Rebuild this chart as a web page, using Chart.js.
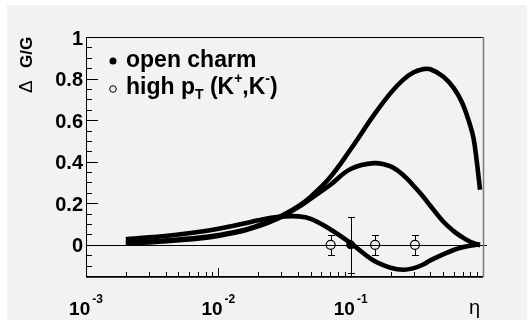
<!DOCTYPE html>
<html>
<head>
<meta charset="utf-8">
<script src="https://cdn.jsdelivr.net/npm/chart.js@4/dist/chart.umd.min.js"></script>
<style>
html,body{margin:0;padding:0;background:#fff;}
canvas{display:block;}
</style>
</head>
<body>
<canvas id="c" width="529" height="320"></canvas>
<script>
// ---- data ----
const etaGrid   = [0.002,0.003,0.005,0.0075,0.01,0.015,0.02,0.025,0.03,0.04,0.05,0.07,0.1,0.15,0.2,0.25,0.3,0.35,0.4,0.5,0.6,0.7,0.8,0.85,0.9,0.93,0.95];
const curveHigh = [0.010,0.016,0.026,0.036,0.047,0.069,0.093,0.116,0.140,0.185,0.232,0.325,0.460,0.625,0.730,0.795,0.830,0.845,0.845,0.810,0.755,0.680,0.575,0.510,0.395,0.315,0.265];
const curveMid  = [0.007,0.012,0.022,0.032,0.043,0.065,0.089,0.112,0.134,0.180,0.222,0.288,0.365,0.393,0.377,0.335,0.283,0.235,0.188,0.112,0.066,0.036,0.015,0.008,0.003,0.001,0.000];
const curveLow  = [0.027,0.036,0.050,0.064,0.077,0.100,0.118,0.130,0.136,0.137,0.125,0.075,0.008,-0.077,-0.110,-0.120,-0.112,-0.096,-0.075,-0.046,-0.025,-0.012,-0.004,-0.002,0.000,0.000,0.000];

const charmX   = [0.1];
const charmY   = [0];
const charmErr = [0.135];

const highPtX   = [0.0706,0.153,0.306];
const highPtY   = [0,0,0];
const highPtErr = [0.048,0.048,0.048];

const yTickValues = [0,0.2,0.4,0.6,0.8,1];
const yTickLabels = ['0','0.2','0.4','0.6','0.8','1'];
const xDecadeExps = [-3,-2,-1];

const pts = (xs, ys) => xs.map((x,i)=>({x:x, y:ys[i]}));

const curveStyle = {borderColor:'#000', borderWidth:4.6, pointRadius:0, tension:0.4, fill:false, order:1};

const decor = {
  id:'decor',
  beforeDraw(chart){
    const ctx = chart.ctx;
    ctx.save();
    ctx.fillStyle = '#ffffff';
    ctx.fillRect(0,0,chart.width,chart.height);
    ctx.fillStyle = '#f2f2f2';
    ctx.fillRect(7,5,520,315);
    ctx.restore();
  },
  beforeDatasetsDraw(chart){
    const ctx = chart.ctx, a = chart.chartArea, ys = chart.scales.y;
    const y0 = Math.round(ys.getPixelForValue(0)) + 0.5;
    ctx.save();
    ctx.strokeStyle = '#000'; ctx.lineWidth = 1;
    ctx.beginPath(); ctx.moveTo(a.left, y0); ctx.lineTo(a.right + 4, y0); ctx.stroke();
    ctx.restore();
  },
  afterDatasetsDraw(chart){
    const ctx = chart.ctx, a = chart.chartArea, xs = chart.scales.x, ys = chart.scales.y;
    ctx.save();
    ctx.strokeStyle = '#000'; ctx.lineWidth = 1;
    // error bars
    const drawErr = (xv, yv, ev, gap) => {
      const px = Math.round(xs.getPixelForValue(xv)) + 0.5;
      const py = ys.getPixelForValue(yv);
      const t = Math.round(ys.getPixelForValue(yv + ev)) + 0.5;
      const b = Math.round(ys.getPixelForValue(yv - ev)) + 0.5;
      ctx.beginPath();
      ctx.moveTo(px, t); ctx.lineTo(px, py - gap);
      ctx.moveTo(px, py + gap); ctx.lineTo(px, b);
      ctx.moveTo(px - 3.5, t); ctx.lineTo(px + 3.5, t);
      ctx.moveTo(px - 3.5, b); ctx.lineTo(px + 3.5, b);
      ctx.stroke();
    };
    charmX.forEach((x,i)=>drawErr(x, charmY[i], charmErr[i], 0));
    highPtX.forEach((x,i)=>drawErr(x, highPtY[i], highPtErr[i], 4.5));

    // frame
    ctx.strokeStyle = '#000'; ctx.lineWidth = 1;
    ctx.beginPath();
    ctx.moveTo(a.right, a.top + 0.5); ctx.lineTo(a.left + 0.5, a.top + 0.5);
    ctx.lineTo(a.left + 0.5, a.bottom + 0.5); ctx.lineTo(a.right, a.bottom + 0.5);
    ctx.stroke();
    ctx.lineWidth = 1.5;
    ctx.beginPath(); ctx.moveTo(a.left, a.bottom + 1); ctx.lineTo(a.right, a.bottom + 1); ctx.stroke();
    ctx.strokeStyle = '#7a7a7a'; ctx.lineWidth = 1.5;
    ctx.beginPath(); ctx.moveTo(a.right + 0.5, a.top); ctx.lineTo(a.right + 0.5, a.bottom + 1); ctx.stroke();

    // y ticks (inside)
    ctx.strokeStyle = '#000'; ctx.lineWidth = 1;
    ctx.beginPath();
    for (let k = -3; k <= 20; k++) {
      const v = k * 0.05;
      if (v < ys.min - 1e-9 || v > ys.max + 1e-9) continue;
      const py = Math.round(ys.getPixelForValue(v)) + 0.5;
      const len = (k % 4 === 0) ? 12 : 6;
      ctx.moveTo(a.left, py); ctx.lineTo(a.left + len, py);
    }
    // x ticks (inside)
    for (let e = -3; e < 0; e++) {
      for (let m = 1; m <= 9; m++) {
        const v = m * Math.pow(10, e);
        const px = Math.round(xs.getPixelForValue(v)) + 0.5;
        const len = (m === 1) ? 8 : 4;
        ctx.moveTo(px, a.bottom); ctx.lineTo(px, a.bottom - len);
      }
    }
    ctx.stroke();

    // y tick labels
    ctx.fillStyle = '#000';
    ctx.font = 'bold 20px "Liberation Sans", Arial, sans-serif';
    ctx.textAlign = 'right'; ctx.textBaseline = 'alphabetic';
    yTickValues.forEach((v,i)=>{
      ctx.fillText(yTickLabels[i], 83, ys.getPixelForValue(v) + 7.5);
    });

    // x tick labels 10^e
    ctx.textAlign = 'left';
    xDecadeExps.forEach(e=>{
      const px = xs.getPixelForValue(Math.pow(10, e));
      ctx.font = 'bold 19px "Liberation Sans", Arial, sans-serif';
      const wb = ctx.measureText('10').width;
      ctx.font = 'bold 12px "Liberation Sans", Arial, sans-serif';
      const sup = String(e);
      const ws = ctx.measureText(sup).width;
      const start = px - (wb + 2 + ws) / 2;
      ctx.font = 'bold 19px "Liberation Sans", Arial, sans-serif';
      ctx.fillText('10', start, 315);
      ctx.font = 'bold 12px "Liberation Sans", Arial, sans-serif';
      ctx.fillText(sup, start + wb + 2, 303);
    });

    // x axis title
    ctx.font = '20px "Liberation Sans", Arial, sans-serif';
    ctx.fillText('\u03B7', 469, 314);

    // y axis title (rotated)
    ctx.save();
    ctx.translate(32, 0);
    ctx.rotate(-Math.PI / 2);
    ctx.textAlign = 'left';
    ctx.font = '19px "Liberation Sans", Arial, sans-serif';
    ctx.fillText('\u0394', -93, 0);
    ctx.font = 'bold 17px "Liberation Sans", Arial, sans-serif';
    ctx.fillText('G/G', -68, 0);
    ctx.restore();

    // legend
    ctx.fillStyle = '#000';
    ctx.beginPath(); ctx.arc(113, 61, 3.5, 0, Math.PI * 2); ctx.fill();
    ctx.lineWidth = 1;
    ctx.beginPath(); ctx.arc(113, 89, 3.3, 0, Math.PI * 2); ctx.stroke();
    const big = 'bold 23px "Liberation Sans", Arial, sans-serif';
    const small = 'bold 14px "Liberation Sans", Arial, sans-serif';
    ctx.font = big;
    ctx.fillText('open charm', 126, 67);
    let x = 126; const base = 94;
    const seg = (txt, f, dy) => { ctx.font = f; ctx.fillText(txt, x, base + dy); x += ctx.measureText(txt).width; };
    seg('high p', big, 0);
    seg('T', small, 5);
    seg(' (K', big, 0);
    seg('+', small, -11);
    seg(',K', big, 0);
    seg('-', small, -11);
    seg(')', big, 0);
    ctx.restore();
  }
};

new Chart(document.getElementById('c'), {
  type: 'line',
  data: {
    datasets: [
      {label:'open charm', data: pts(charmX, charmY), showLine:false, pointRadius:4.5, pointBackgroundColor:'#000', pointBorderColor:'#000', pointBorderWidth:0, order:0},
      {label:'high pT (K+,K-)', data: pts(highPtX, highPtY), showLine:false, pointRadius:4.5, pointBackgroundColor:'rgba(0,0,0,0)', pointBorderColor:'#000', pointBorderWidth:1.2, order:0},
      Object.assign({label:'curve 1', data: pts(etaGrid, curveHigh)}, curveStyle),
      Object.assign({label:'curve 2', data: pts(etaGrid, curveMid)}, curveStyle),
      Object.assign({label:'curve 3', data: pts(etaGrid, curveLow)}, curveStyle)
    ]
  },
  options: {
    responsive: false,
    animation: false,
    devicePixelRatio: 1,
    events: [],
    layout: {padding: {left: 86, top: 37, right: 46, bottom: 44}},
    scales: {
      x: {type: 'logarithmic', min: 0.001, max: 1, display: false},
      y: {type: 'linear', min: -0.15, max: 1, display: false}
    },
    plugins: {legend: {display: false}, tooltip: {enabled: false}}
  },
  plugins: [decor]
});
</script>
</body>
</html>
